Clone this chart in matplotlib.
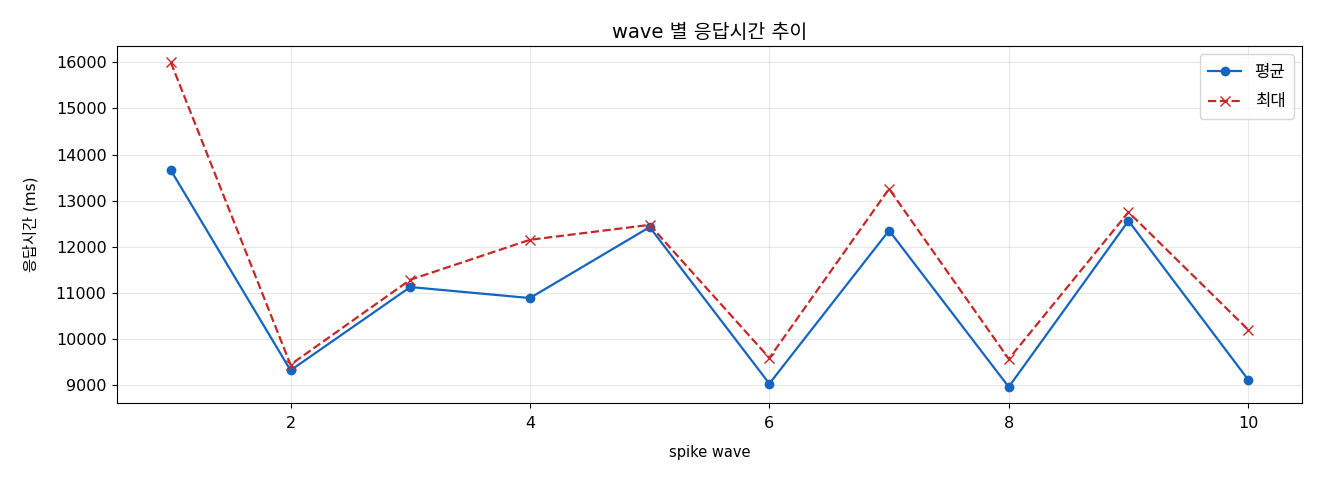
import matplotlib
matplotlib.use("Agg")
import matplotlib.pyplot as plt

plt.rcParams['font.family'] = ['DejaVu Sans', 'Noto Sans CJK KR']
plt.rcParams['axes.unicode_minus'] = False

waves = [1, 2, 3, 4, 5, 6, 7, 8, 9, 10]
mean_ms = [13662, 9325, 11130, 10892, 12429, 9037, 12355, 8965, 12565, 9123]
max_ms = [16000, 9448, 11288, 12154, 12478, 9593, 13258, 9571, 12753, 10206]

fig = plt.figure(figsize=(13.2, 4.8), dpi=100)
ax = fig.add_axes([0.0886, 0.16, 0.8978, 0.744])
ax.plot(waves, mean_ms, marker='o', color='#1565C0', linewidth=1.6, markersize=6, label='평균')
ax.plot(waves, max_ms, marker='x', linestyle='--', color='#C62828', linewidth=1.6, markersize=7, label='최대')
ax.set_title('wave 별 응답시간 추이', fontsize=14)
ax.set_xlabel('spike wave', fontsize=10.5, labelpad=10)
ax.set_ylabel('응답시간 (ms)', fontsize=11, labelpad=12)
ax.grid(True, alpha=0.3)
ax.tick_params(axis='y', labelsize=11.5, pad=4)
ax.tick_params(axis='x', labelsize=11.5, pad=5.5)
ax.legend(loc='upper right', fontsize=12, labelspacing=0.7, borderpad=0.5)
fig.savefig('out.png', dpi=100)
